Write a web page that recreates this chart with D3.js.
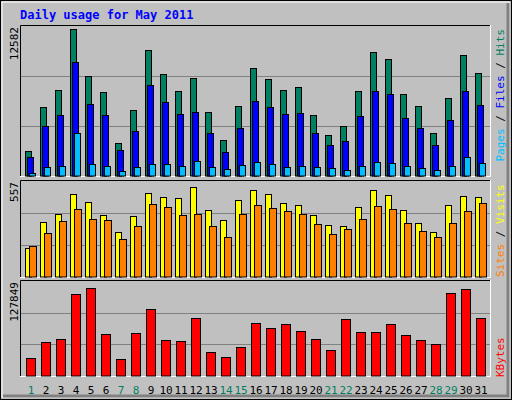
<!DOCTYPE html><html><head><script src="https://cdn.jsdelivr.net/npm/d3@7"></script>
<style>body{margin:0;background:#fff}</style></head><body><svg id="c" width="512" height="400"></svg>
<script>
const days=d3.range(1,32);
const weekend=[1,7,8,14,15,21,22,28,29];
const hits=[2140,5906,7361,12582,8559,7190,2825,5649,10785,8731,7275,8388,5478,3081,5992,9244,8303,7361,7618,5221,3509,4280,7275,10614,10014,7019,5992,3680,6676,10357,8816];
const files=[1626,4280,5221,9758,6163,5221,2225,3852,7789,6334,5307,5478,3680,2054,4108,6419,5906,5307,5392,3680,2653,2996,5136,7275,7019,4964,4108,2653,4793,7275,6077];
const pages=[257,770,856,3680,1027,856,428,770,1027,1027,856,1284,770,599,942,1198,1027,770,856,770,685,514,856,1198,1113,856,685,514,856,1626,1113];
const visits=[178,341,389,515,461,383,281,377,521,497,485,557,413,353,473,539,515,455,443,383,323,317,431,539,509,413,335,281,443,503,497];
const sites=[191,269,347,419,359,353,233,317,449,431,383,389,317,245,389,443,425,407,389,329,263,299,359,437,419,335,287,245,335,407,455];
const kbytes=[25742,49525,53722,119475,127849,60717,24343,62116,97091,52323,50924,84500,35535,27141,42530,77505,70510,76106,64914,53722,38333,83101,63515,63515,76106,59318,52323,46727,120874,126470,84500];
const svg=d3.select("#c");
const F="DejaVu Sans Mono, monospace";
svg.append("rect").attr("x",0.5).attr("y",0.5).attr("width",511).attr("height",399).attr("fill","#c0c0c0").attr("stroke","#000");
svg.append("path").attr("d","M2,2H509V397H2Z").attr("fill","none").attr("stroke","#fff").attr("stroke-width",1);
svg.append("path").attr("d","M508,3V396H3").attr("fill","none").attr("stroke","#808080").attr("stroke-width",3);
svg.append("text").attr("x",20).attr("y",19).attr("fill","#0000ff").attr("font-family",F).attr("font-weight","bold").attr("font-size",12).text("Daily usage for May 2011");
const x=d3.scaleBand().domain(days).range([20,485]);
const x0=d=>25+(d-1)*15;
function panel(y0,y1,max,full,label){
  svg.append("rect").attr("x",20).attr("y",y0).attr("width",471).attr("height",y1-y0).attr("fill","#c0c0c0");
  const y=d3.scaleLinear().domain([0,max*full]).range([y1,y0+1]);
  const yg=d3.scaleLinear().domain([0,3]).range([y1,y0+1]);
  [1,2].forEach(i=>svg.append("line").attr("x1",21).attr("x2",490).attr("y1",Math.round(yg(i))+.5).attr("y2",Math.round(yg(i))+.5).attr("stroke","#808080"));
  svg.append("path").attr("d",`M20.5,${y1}V${y0+.5}H490`).attr("fill","none").attr("stroke","#000");
  svg.append("path").attr("d",`M490.5,${y0}V${y1+.5}H20`).attr("fill","none").attr("stroke","#fff");
  svg.append("text").attr("transform",`translate(18,${y0+2}) rotate(-90)`).attr("text-anchor","end").attr("font-family",F).attr("font-size",11).text(label);
  return y;
}
function bars(y,data,off,w,color,y1){
  svg.append("g").selectAll("rect").data(data).join("rect")
   .attr("x",(d,i)=>x0(i+1)+off+.5).attr("y",d=>Math.round(y(d))+.5).attr("width",w).attr("height",d=>y1-Math.round(y(d))-.5)
   .attr("fill",color).attr("stroke","#000");
}
const y1=panel(25,176,12582,150/147,"12582");
bars(y1,hits,0,6,"#008060",176);bars(y1,files,2,6,"#0000ff",176);bars(y1,pages,4,6,"#00c0ff",176);
const y2=panel(180,277,557,99/93,"557");
bars(y2,visits,0,6,"#ffff00",277);bars(y2,sites,4,7,"#ff8000",277);
const y3=panel(280,376,127849,99/91.4,"127849");
bars(y3,kbytes,1,9,"#ff0000",376);
svg.append("g").selectAll("text").data(days).join("text").attr("x",d=>x0(d)+6).attr("y",394).attr("text-anchor","middle")
 .attr("font-family",F).attr("font-size",11).attr("fill",d=>weekend.includes(d)?"#008060":"#000").text(d=>d);
function rlabel(yy,anchor,parts){
  const t=svg.append("text").attr("transform",`translate(504,${yy}) rotate(-90)`).attr("text-anchor",anchor).attr("font-family",F).attr("font-size",11);
  parts.forEach(([s,c])=>t.append("tspan").attr("fill",c).text(s));
}
rlabel(29,"end",[["Pages","#00c0ff"],[" / ","#000"],["Files","#0000ff"],[" / ","#000"],["Hits","#008060"]]);
rlabel(277,"start",[["Sites","#ff8000"],[" / ","#000"],["Visits","#ffff00"]]);
rlabel(377,"start",[["KBytes","#ff0000"]]);
</script></body></html>
